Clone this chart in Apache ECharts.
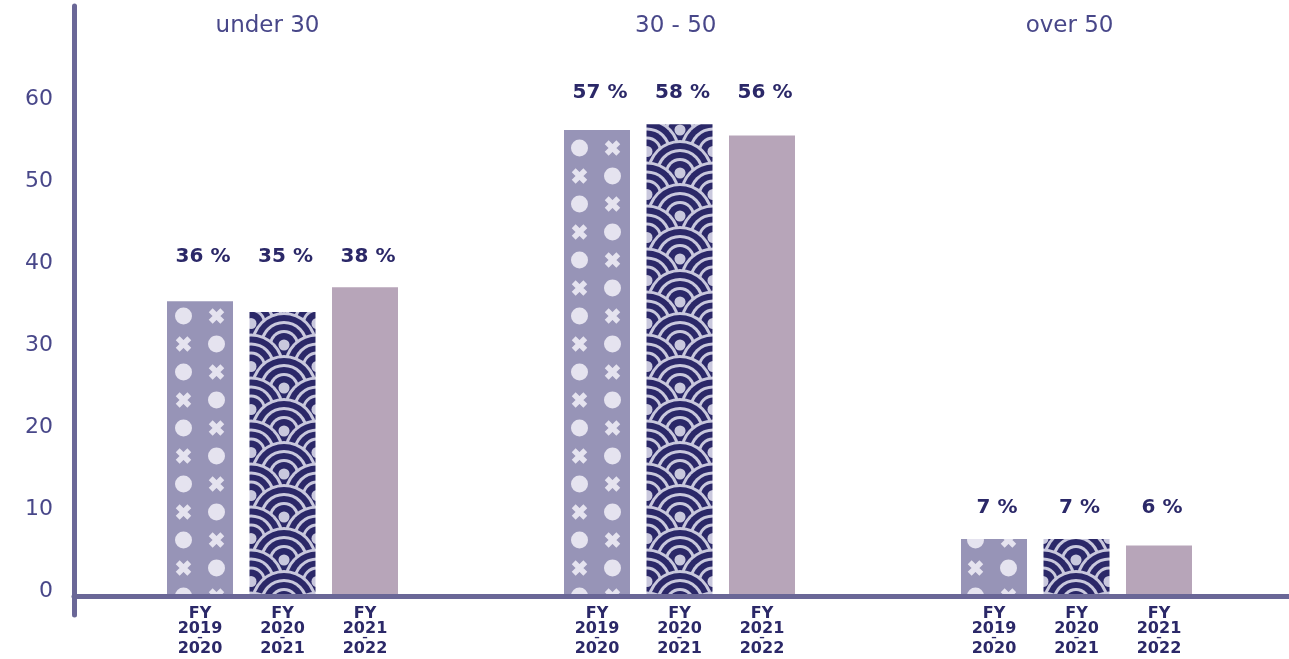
<!DOCTYPE html>
<html>
<head>
<meta charset="utf-8">
<script src="https://cdn.jsdelivr.net/npm/echarts@6/dist/echarts.min.js"></script>
<style>
html,body{margin:0;padding:0;background:#fff;}
#c{width:1289px;height:659px;}
</style>
</head>
<body>
<div id="c"></div>
<script>
// ---- data ----
const categories = ['under 30', '30 - 50', 'over 50'];
const periods = [['2019', '2020'], ['2020', '2021'], ['2021', '2022']];
const fy2019_2020 = [35.7, 56.6, 6.7];
const fy2020_2021 = [34.4, 57.3, 6.7];
const fy2021_2022 = [37.4, 55.9, 5.9];
const pct2019_2020 = [36, 57, 7];
const pct2020_2021 = [35, 58, 7];
const pct2021_2022 = [38, 56, 6];
const yTicks = [0, 10, 20, 30, 40, 50, 60];

// ---- styles ----
const NAVY = '#2b2868';
const AXIS = '#6a6797';
const TXT = '#484789';

function dotsCrossPattern() {
  const c = document.createElement('canvas');
  c.width = 66; c.height = 56;
  const g = c.getContext('2d');
  g.fillStyle = '#9794b7';
  g.fillRect(0, 0, 66, 56);
  g.fillStyle = '#e5e3ef';
  g.strokeStyle = '#e5e3ef';
  g.lineWidth = 5.5;
  function circle(x, y) { g.beginPath(); g.arc(x, y, 8.5, 0, Math.PI * 2); g.fill(); }
  function cross(x, y) {
    const h = 5.8;
    g.beginPath();
    g.moveTo(x - h, y - h); g.lineTo(x + h, y + h);
    g.moveTo(x + h, y - h); g.lineTo(x - h, y + h);
    g.stroke();
  }
  const A = 51.5, B = 18.5;
  [36].forEach(y => { circle(A, y); cross(B, y); });
  [8, 64].forEach(y => { cross(A, y); circle(B, y); });
  return c;
}

function seigaihaPattern() {
  const W = 66, H = 43;
  const c = document.createElement('canvas');
  c.width = W; c.height = H;
  const g = c.getContext('2d');
  g.fillStyle = NAVY;
  g.fillRect(0, 0, W, H);
  const light = '#c9c8dd';
  const radii = [[33, light], [30, NAVY], [24, light], [21, NAVY], [15, light], [12, NAVY], [5.5, light]];
  const x0 = 20, y0 = 1;
  for (let j = -4; j <= 5; j++) {
    const y = y0 + j * 21.5;
    const xo = (Math.abs(j) % 2 === 1) ? 33 : 0;
    for (let k = -2; k <= 2; k++) {
      const x = x0 + xo + k * W;
      radii.forEach(([r, col]) => {
        g.fillStyle = col;
        g.beginPath(); g.arc(x, y, r, 0, Math.PI * 2); g.fill();
      });
    }
  }
  return c;
}

const groupMax = categories.map((_, i) => Math.max(fy2019_2020[i], fy2020_2021[i], fy2021_2022[i]));

const chart = echarts.init(document.getElementById('c'));

const barCommon = { type: 'bar', barWidth: 66, barGap: '25%', xAxisIndex: 0, yAxisIndex: 0 };
const pctLabel = (arr) => ({
  show: true, position: 'top', distance: 21, offset: [3, 0],
  fontFamily: 'DejaVu Sans', fontWeight: 'bold', fontSize: 20, color: NAVY,
  formatter: p => arr[p.dataIndex] + ' %'
});
function carrier(stack, vals, pct) {
  return Object.assign({}, barCommon, {
    stack: stack, silent: true,
    data: vals.map((v, i) => +(groupMax[i] - v).toFixed(2)),
    itemStyle: { color: 'rgba(0,0,0,0)' },
    label: pctLabel(pct)
  });
}

const fyRich = (() => {
  const l1 = periods.map(() => '{a|FY}').join('');
  const l2 = periods.map(p => '{a|' + p[0] + '}').join('');
  const l3 = periods.map(() => '{d|–}').join('');
  const l4 = periods.map(p => '{b|' + p[1] + '}').join('');
  return [l1, l2, l3, l4].join('\n');
})();

chart.setOption({
  animation: false,
  grid: [
    { left: 84, right: 14, top: 102, bottom: 65 },
    { left: 74, right: 0, top: 6, bottom: 44 }
  ],
  xAxis: [
    {
      type: 'category', data: categories, gridIndex: 0, position: 'bottom',
      axisLine: { show: false }, axisTick: { show: false },
      axisLabel: {
        interval: 0, margin: 12, formatter: () => fyRich,
        rich: {
          a: { width: 82.5, align: 'center', fontFamily: 'DejaVu Sans', fontWeight: 'bold', fontSize: 16, lineHeight: 15, color: NAVY },
          d: { width: 82.5, align: 'center', fontFamily: 'DejaVu Sans', fontWeight: 'bold', fontSize: 11, lineHeight: 4, color: NAVY },
          b: { width: 82.5, align: 'center', fontFamily: 'DejaVu Sans', fontWeight: 'bold', fontSize: 16, lineHeight: 18, color: NAVY }
        }
      }
    },
    {
      type: 'category', data: categories, gridIndex: 0, position: 'top',
      axisLine: { show: false }, axisTick: { show: false },
      axisLabel: { interval: 0, margin: 64, align: 'right', padding: [0, -37, 0, 0],
        fontFamily: 'DejaVu Sans', fontWeight: 'normal', fontSize: 23, color: TXT }
    },
    {
      type: 'value', gridIndex: 1, min: 0, max: 1,
      axisLine: { show: true, onZero: true, lineStyle: { color: AXIS, width: 5 } },
      axisTick: { show: false }, axisLabel: { show: false }, splitLine: { show: false }
    }
  ],
  yAxis: [
    {
      type: 'value', gridIndex: 0, min: yTicks[0], max: yTicks[yTicks.length - 1], interval: 10,
      axisLine: { show: false }, axisTick: { show: false }, splitLine: { show: false },
      axisLabel: { margin: 31, fontFamily: 'DejaVu Sans', fontWeight: 'normal', fontSize: 22, color: TXT,
        verticalAlign: 'bottom', lineHeight: 6 }
    },
    {
      type: 'value', gridIndex: 1, min: -19, max: 590,
      axisLine: { show: true, onZero: true, lineStyle: { color: AXIS, width: 5 } },
      axisTick: { show: false }, axisLabel: { show: false }, splitLine: { show: false }
    }
  ],
  series: [
    Object.assign({}, barCommon, { name: 'FY 2019-2020', stack: 's1', data: fy2019_2020,
      itemStyle: { color: { image: dotsCrossPattern(), repeat: 'repeat' } } }),
    carrier('s1', fy2019_2020, pct2019_2020),
    Object.assign({}, barCommon, { name: 'FY 2020-2021', stack: 's2', data: fy2020_2021,
      itemStyle: { color: { image: seigaihaPattern(), repeat: 'repeat' } } }),
    carrier('s2', fy2020_2021, pct2020_2021),
    Object.assign({}, barCommon, { name: 'FY 2021-2022', stack: 's3', data: fy2021_2022,
      itemStyle: { color: '#b7a5b9' } }),
    carrier('s3', fy2021_2022, pct2021_2022)
  ]
});
</script>
</body>
</html>
